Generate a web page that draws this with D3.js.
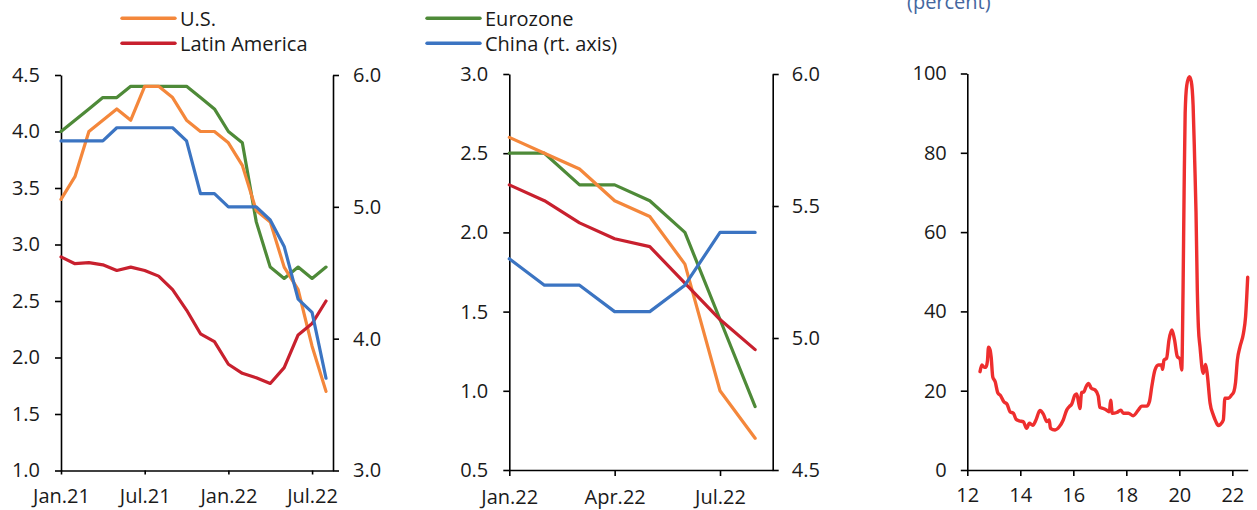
<!DOCTYPE html>
<html>
<head>
<meta charset="utf-8">
<script src="https://cdn.jsdelivr.net/npm/d3@7"></script>
<style>
  html, body { margin: 0; padding: 0; background: #fff; }
  svg { display: block; }
  text { font-family: "Open Sans", "Noto Sans", sans-serif; fill: #1a1a1a; }
</style>
</head>
<body>
<svg id="chart" width="1257" height="510"></svg>
<script>
// ---------------- DATA ----------------
// Panel 1 (monthly, Jan.21 - Aug.22)
const monthsA = ["Jan.21","Feb.21","Mar.21","Apr.21","May.21","Jun.21","Jul.21","Aug.21","Sep.21","Oct.21","Nov.21","Dec.21","Jan.22","Feb.22","Mar.22","Apr.22","May.22","Jun.22","Jul.22","Aug.22"];
const usA    = [3.4,3.6,4.0,4.1,4.2,4.1,4.4,4.4,4.3,4.1,4.0,4.0,3.9,3.7,3.3,3.2,2.8,2.6,2.1,1.7];
const euroA  = [4.0,4.1,4.2,4.3,4.3,4.4,4.4,4.4,4.4,4.4,4.3,4.2,4.0,3.9,3.2,2.8,2.7,2.8,2.7,2.8];
const latamA = [2.89,2.83,2.84,2.82,2.77,2.80,2.77,2.72,2.60,2.42,2.21,2.14,1.94,1.86,1.82,1.77,1.91,2.20,2.30,2.50];
const chinaA = [5.5,5.5,5.5,5.5,5.6,5.6,5.6,5.6,5.6,5.5,5.1,5.1,5.0,5.0,5.0,4.9,4.7,4.3,4.2,3.7];
const xTicksA = ["Jan.21","Jul.21","Jan.22","Jul.22"];
const yTicksA = [1.0,1.5,2.0,2.5,3.0,3.5,4.0,4.5];
const yTicksAR = [3.0,4.0,5.0,6.0];

// Panel 2 (monthly, Jan.22 - Aug.22)
const monthsB = ["Jan.22","Feb.22","Mar.22","Apr.22","May.22","Jun.22","Jul.22","Aug.22"];
const usB    = [2.6,2.5,2.4,2.2,2.1,1.8,1.0,0.7];
const euroB  = [2.5,2.5,2.3,2.3,2.2,2.0,1.45,0.9];
const latamB = [2.30,2.20,2.06,1.96,1.91,1.68,1.45,1.26];
const chinaB = [5.3,5.2,5.2,5.1,5.1,5.2,5.4,5.4];
const xTicksB = ["Jan.22","Apr.22","Jul.22"];
const yTicksB = [0.5,1.0,1.5,2.0,2.5,3.0];
const yTicksBR = [4.5,5.0,5.5,6.0];

// Panel 3 (percent, years 2012 - 2022)
const volYear = [12.48,12.55,12.62,12.70,12.76,12.80,12.86,12.90,12.96,13.05,13.15,13.26,13.38,13.50,13.61,13.74,13.84,13.96,14.11,14.24,14.34,14.47,14.59,14.74,14.87,15.00,15.09,15.14,15.31,15.47,15.62,15.75,15.85,15.94,16.06,16.13,16.20,16.25,16.31,16.40,16.48,16.58,16.68,16.82,16.94,17.00,17.13,17.26,17.36,17.41,17.47,17.64,17.79,17.89,18.08,18.26,18.45,18.58,18.77,18.87,18.96,19.08,19.21,19.33,19.37,19.42,19.52,19.61,19.72,19.82,19.92,20.03,20.09,20.14,20.18,20.22,20.28,20.38,20.45,20.52,20.58,20.63,20.68,20.72,20.78,20.90,20.99,21.05,21.16,21.28,21.38,21.47,21.55,21.66,21.72,21.85,21.97,22.06,22.12,22.19,22.29,22.42,22.50,22.58];
const volValue = [24.8,26.5,26.0,25.9,27.5,31.0,30.3,28.5,23.5,22.3,19.5,18.7,17.2,16.6,14.7,14.3,12.8,12.4,12.2,10.5,11.8,11.3,12.6,15.0,14.1,12.2,12.6,10.5,10.1,10.9,12.6,15.1,16.0,16.6,18.9,19.2,17.0,15.5,19.5,19.7,21.0,21.8,20.6,20.2,18.7,15.8,15.5,15.1,14.7,17.6,14.3,14.5,15.1,14.3,14.3,13.7,15.1,16.1,16.1,17.2,21.0,25.2,26.5,26.5,25.4,27.7,28.2,32.8,35.3,32.8,28.7,27.9,25.2,45,70,90,97,99.2,98,92,78,65,45,36,31.1,24.4,26.6,24.4,16.9,13.9,12.2,11.2,11.5,12.6,18.1,18.1,18.9,19.8,22.0,27.7,31.1,34.5,38.7,48.6];
const xTicksC = [12,14,16,18,20,22];
const yTicksC = [0,20,40,60,80,100];

const legendItems = [
  {name: "U.S.", color: "#F4873B", col: 0, row: 0},
  {name: "Latin America", color: "#C8202E", col: 0, row: 1},
  {name: "Eurozone", color: "#4E8A38", col: 1, row: 0},
  {name: "China (rt. axis)", color: "#3B74C2", col: 1, row: 1}
];
const colors = {us: "#F4873B", latam: "#C8202E", euro: "#4E8A38", china: "#3B74C2", vol: "#EE2E2E"};

// ---------------- DRAW ----------------
const svg = d3.select("#chart");
const FS = 20;
const AX = "#000";

function styleAxis(g) {
  g.selectAll("path.domain").attr("stroke", AX).attr("stroke-width", 1.6);
  g.selectAll(".tick line").attr("stroke", AX).attr("stroke-width", 1.6);
  g.selectAll(".tick text").attr("font-size", FS).attr("fill", "#1a1a1a")
    .attr("font-family", "'Open Sans', 'Noto Sans', sans-serif");
}

function dualPanel(cfg) {
  const x = d3.scaleLinear().domain([0, cfg.xMax]).range([cfg.x0, cfg.x1]);
  const yL = d3.scaleLinear().domain(cfg.yL).range([cfg.yBot, cfg.yTop]);
  const yR = d3.scaleLinear().domain(cfg.yR).range([cfg.yBot, cfg.yTop]);

  const gx = svg.append("g").attr("transform", `translate(0,${cfg.yBot})`)
    .call(d3.axisBottom(x).tickValues(cfg.xTicks.map(t => cfg.months.indexOf(t)))
      .tickFormat(i => cfg.months[i]).tickSize(cfg.xTickSize).tickSizeOuter(0).tickPadding(cfg.xPad));
  styleAxis(gx);
  const gl = svg.append("g").attr("transform", `translate(${cfg.x0},0)`)
    .call(d3.axisLeft(yL).tickValues(cfg.yTicksL).tickFormat(d3.format(".1f")).tickSize(6).tickSizeOuter(0).tickPadding(cfg.lPad));
  styleAxis(gl);
  const gr = svg.append("g").attr("transform", `translate(${cfg.x1},0)`)
    .call(d3.axisRight(yR).tickValues(cfg.yTicksR).tickFormat(d3.format(".1f")).tickSize(6).tickSizeOuter(0).tickPadding(cfg.rPad));
  styleAxis(gr);

  const lineL = d3.line().x((d, i) => x(i)).y(d => yL(d));
  const lineR = d3.line().x((d, i) => x(i)).y(d => yR(d));
  const series = [
    {data: cfg.euro, color: colors.euro, line: lineL},
    {data: cfg.us, color: colors.us, line: lineL},
    {data: cfg.latam, color: colors.latam, line: lineL},
    {data: cfg.china, color: colors.china, line: lineR}
  ];
  series.forEach(s => {
    svg.append("path").datum(s.data).attr("d", s.line)
      .attr("fill", "none").attr("stroke", s.color).attr("stroke-width", 3.2)
      .attr("stroke-linejoin", "round").attr("stroke-linecap", "round");
  });
}

dualPanel({
  months: monthsA, xTicks: xTicksA, xMax: 19.5,
  x0: 61, x1: 333, yTop: 75, yBot: 470.5,
  yL: [1.0, 4.5], yR: [3.0, 6.0], yTicksL: yTicksA, yTicksR: yTicksAR,
  us: usA, euro: euroA, latam: latamA, china: chinaA,
  xTickSize: 4, xPad: 14, lPad: 15, rPad: 14
});

dualPanel({
  months: monthsB, xTicks: xTicksB, xMax: 7.5,
  x0: 509.3, x1: 772.7, yTop: 74, yBot: 470,
  yL: [0.5, 3.0], yR: [4.5, 6.0], yTicksL: yTicksB, yTicksR: yTicksBR,
  us: usB, euro: euroB, latam: latamB, china: chinaB,
  xTickSize: 6, xPad: 14, lPad: 15, rPad: 13
});

// Panel 3
(function () {
  const x0 = 967.3, x1 = 1247.7, yTop = 73.5, yBot = 470;
  const x = d3.scaleLinear().domain([12, 22.58]).range([x0, x1]);
  const y = d3.scaleLinear().domain([0, 100]).range([yBot, yTop]);
  const gx = svg.append("g").attr("transform", `translate(0,${yBot})`)
    .call(d3.axisBottom(x).tickValues(xTicksC).tickFormat(d3.format("d")).tickSize(6).tickSizeOuter(0).tickPadding(12));
  styleAxis(gx);
  const gy = svg.append("g").attr("transform", `translate(${x0},0)`)
    .call(d3.axisLeft(y).tickValues(yTicksC).tickFormat(d3.format("d")).tickSize(6.5).tickSizeOuter(0).tickPadding(14));
  styleAxis(gy);
  const pts = volYear.map((t, i) => [t, volValue[i]]);
  svg.append("path").datum(pts)
    .attr("d", d3.line().x(d => x(d[0])).y(d => y(d[1])).curve(d3.curveMonotoneX))
    .attr("fill", "none").attr("stroke", colors.vol).attr("stroke-width", 3.4)
    .attr("stroke-linejoin", "round").attr("stroke-linecap", "round");

  svg.append("text").attr("x", 907).attr("y", 9).attr("font-size", FS)
    .style("fill", "#44679F").text("(percent)");
})();

// Legend
const legX = [122, 427], legY = [18.3, 43.3];
legendItems.forEach(it => {
  const lx = legX[it.col], ly = legY[it.row];
  svg.append("line").attr("x1", lx).attr("x2", lx + 53).attr("y1", ly).attr("y2", ly)
    .attr("stroke", it.color).attr("stroke-width", 3.4).attr("stroke-linecap", "round");
  svg.append("text").attr("x", lx + 58).attr("y", ly + 7.5).attr("font-size", FS).text(it.name);
});
</script>
</body>
</html>
